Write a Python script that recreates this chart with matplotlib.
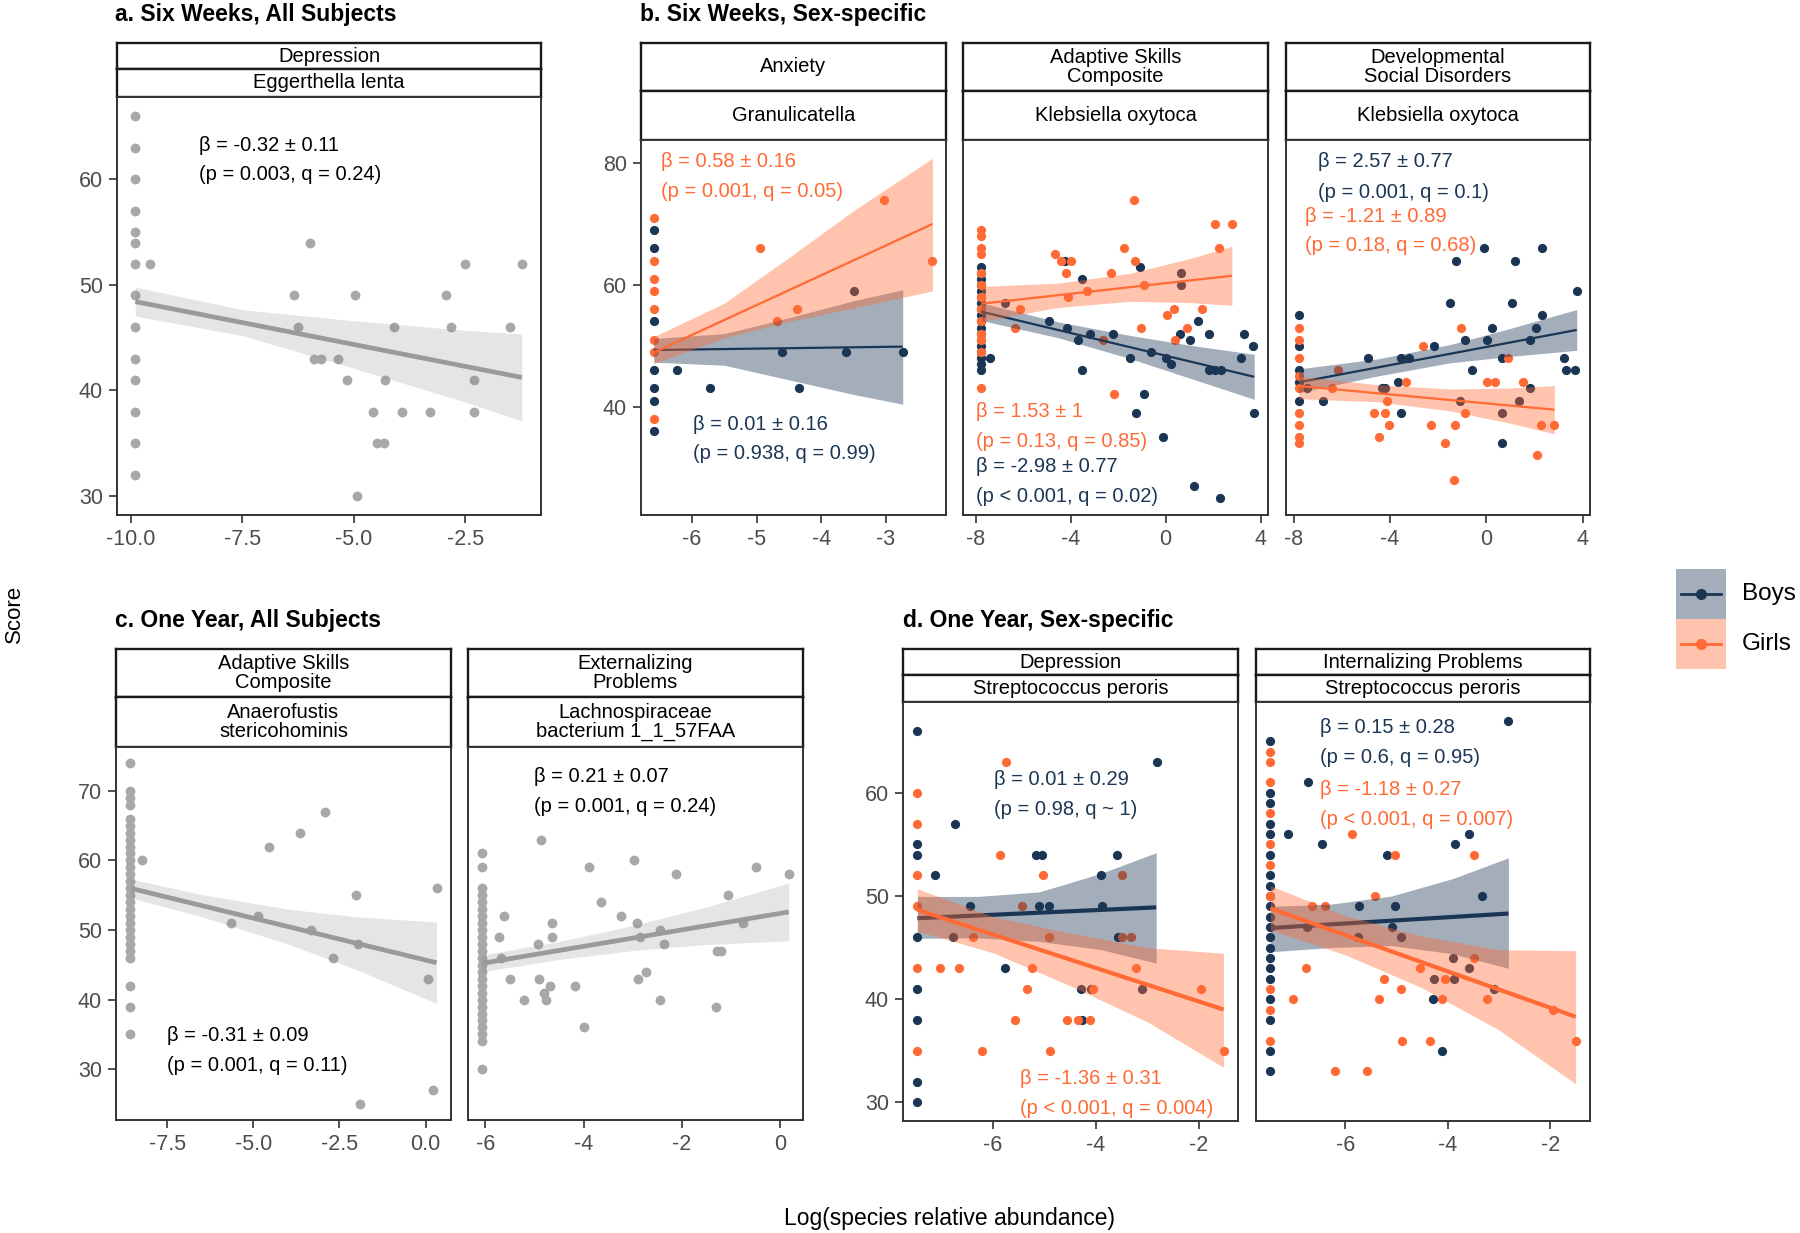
import matplotlib.pyplot as plt

plt.rcParams['font.family'] = ['Liberation Sans', 'DejaVu Sans']

NAVY = '#1b3654'
ORANGE = '#ff6a35'
GREY_PT = '#a8a8a8'
GREY_LN = '#9a9a9a'

# ---------- a. six weeks, all subjects ----------
a_x = [-9.9] * 14 + [-9.57, -5.98, -6.33, -4.97, -6.24, -4.09, -5.90, -5.74, -5.36, -5.15, -4.31, -4.56,
                     -3.91, -3.30, -4.48, -4.32, -4.93, -2.51, -1.23, -2.92, -2.82, -1.49, -2.30, -2.30]
a_y = [66, 63, 60, 57, 55, 54, 52, 49, 46, 43, 41, 38, 35, 32] + \
      [52, 54, 49, 49, 46, 46, 43, 43, 43, 41, 41, 38, 38, 38, 35, 35, 30, 52, 52, 49, 46, 46, 41, 38]
a_fit_x = [-9.9, -1.23]
a_fit_y = [48.42, 41.23]
a_band_x = [-9.9, -7.5, -5.0, -2.5, -1.23]
a_band_lo = [47.05, 45.2, 42.1, 38.9, 37.1]
a_band_hi = [49.8, 47.65, 46.6, 45.7, 45.35]

# ---------- b. six weeks, sex-specific ----------
b1_girls_x = [-6.59] * 8 + [-4.95, -3.03, -2.28, -4.37, -4.69]
b1_girls_y = [71, 64, 61, 59, 56, 51, 49, 38] + [66, 74, 64, 56, 54]
b1_boys_x = [-6.59] * 7 + [-3.49, -4.61, -3.61, -2.74, -6.24, -5.72, -4.34]
b1_boys_y = [69, 66, 54, 46, 43, 41, 36] + [59, 49, 49, 49, 46, 43, 43]
b1_girls_fit_x, b1_girls_fit_y = [-6.59, -2.28], [48.9, 70.0]
b1_girls_band_x = [-6.59, -5.5, -4.5, -3.5, -2.28]
b1_girls_band_lo = [47.1, 51.3, 54.0, 56.2, 59.0]
b1_girls_band_hi = [51.5, 57.0, 64.5, 72.2, 80.8]
b1_boys_fit_x, b1_boys_fit_y = [-6.59, -2.74], [49.3, 49.86]
b1_boys_band_x = [-6.59, -5.5, -4.5, -3.5, -2.74]
b1_boys_band_lo = [47.3, 46.8, 44.4, 42.0, 40.4]
b1_boys_band_hi = [51.2, 52.0, 54.6, 57.4, 59.2]

b2_girls_x = [-7.76] * 13 + [-1.35, 2.08, 2.79, 2.25, -4.67, -4.42, -4.0, -1.75, -1.29, -4.18, -2.30, -3.33,
                             -4.11, -0.90, 0.35, 0.06, 1.52, -1.05, 0.90, 0.38, -6.13, -2.18, -6.36, -2.62]
b2_girls_y = [69, 68, 66, 65, 62, 60, 58, 56, 54, 52, 51, 49, 43] + \
             [74, 70, 70, 66, 65, 64, 64, 66, 64, 62, 62, 59, 58, 60, 56, 55, 56, 53, 53, 51, 56, 42, 53, 51]
b2_boys_x = [-7.76] * 18 + [-7.40, -6.78, 0.65, 0.65, -4.25, -3.54, -1.08, -4.90, -4.17, -3.68, -3.19, -2.22,
                            -1.50, -0.62, 0.01, 0.22, 0.62, 1.04, 1.38, 1.84, 1.82, 2.09, 2.34, 3.28, 3.66,
                            3.19, -3.54, -0.93, -1.24, 3.73, -0.13, 1.18, 2.30]
b2_boys_y = [63, 62, 61, 60, 59, 58, 57, 56, 55, 54, 53, 52, 51, 50, 49, 48, 47, 46] + \
            [48, 57, 62, 60, 64, 61, 63, 54, 53, 51, 52, 52, 48, 49, 48, 47, 52, 51, 54, 52, 46, 46, 46, 52,
             50, 48, 46, 42, 39, 39, 35, 27, 25]
b2_girls_fit_x, b2_girls_fit_y = [-7.76, 2.79], [56.9, 61.5]
b2_girls_band_x = [-7.76, -4.5, -1.5, 1.0, 2.79]
b2_girls_band_lo = [54.05, 56.3, 57.3, 57.1, 56.65]
b2_girls_band_hi = [59.75, 60.3, 61.9, 64.3, 66.35]
b2_boys_fit_x, b2_boys_fit_y = [-7.76, 3.73], [55.6, 44.9]
b2_boys_band_x = [-7.76, -4.5, -1.5, 1.0, 3.73]
b2_boys_band_lo = [54.15, 51.3, 47.9, 44.7, 41.2]
b2_boys_band_hi = [57.05, 53.9, 51.7, 50.1, 48.6]

b3_boys_x = [-7.79] * 5 + [-1.24, -0.10, 1.20, 2.30, 3.76, -1.51, 1.06, 2.33, 0.22, 2.08, -0.90, 0.02, 1.83,
                           -2.19, -4.93, -3.55, -3.19, 0.64, 3.22, -0.61, 3.31, 3.69, -3.67, -6.80, -3.55,
                           0.64, -7.45, -4.33, -4.2, -1.11, 0.64, 1.38, 1.83]
b3_boys_y = [55, 50, 46, 44, 41] + [64, 66, 64, 66, 59, 57, 57, 55, 53, 53, 51, 51, 51, 50, 48, 48, 48, 48,
                                    48, 46, 46, 46, 44, 41, 39, 34, 43, 43, 43, 41, 39, 41, 43]
b3_girls_x = [-7.79] * 9 + [-6.17, 0.92, -1.04, -2.63, -3.33, 0.05, 0.38, 1.54, -6.41, -4.13, -4.68, -4.20,
                            -0.90, -4.02, -2.30, -1.28, 2.28, 2.83, -4.45, -1.73, 2.10, -1.33]
b3_girls_y = [53, 51, 48, 45, 43, 39, 37, 35, 34] + [46, 48, 53, 50, 44, 44, 44, 44, 43, 41, 39, 39, 39, 37,
                                                     37, 37, 37, 37, 35, 34, 32, 28]
b3_boys_fit_x, b3_boys_fit_y = [-7.79, 3.76], [44.0, 52.6]
b3_boys_band_x = [-7.79, -4.5, -1.5, 1.0, 3.76]
b3_boys_band_lo = [42.3, 45.05, 47.2, 48.25, 49.25]
b3_boys_band_hi = [46.2, 47.85, 50.2, 52.85, 55.95]
b3_girls_fit_x, b3_girls_fit_y = [-7.79, 2.83], [43.4, 39.5]
b3_girls_band_x = [-7.79, -4.5, -1.5, 1.0, 2.83]
b3_girls_band_lo = [41.3, 40.8, 39.3, 37.27, 35.55]
b3_girls_band_hi = [45.0, 43.6, 42.9, 43.07, 43.45]

# ---------- c. one year, all subjects ----------
c1_x = [-8.57] * 28 + [-8.23, -4.55, -3.65, -2.91, -5.64, -4.86, -3.32, -2.69, -1.97, -2.03, 0.32, 0.07,
                       -1.90, 0.23]
c1_y = [74, 70, 69, 68, 66, 65, 64, 63, 62, 61, 60, 59, 58, 57, 56, 55, 54, 53, 52, 51, 50, 49, 48, 47, 46,
        42, 39, 35] + [60, 62, 64, 67, 51, 52, 50, 46, 48, 55, 56, 43, 25, 27]
c1_fit_x, c1_fit_y = [-8.57, 0.32], [56.0, 45.3]
c1_band_x = [-8.57, -6.5, -4.0, -2.0, 0.32]
c1_band_lo = [54.65, 51.9, 48.0, 44.3, 39.45]
c1_band_hi = [57.35, 55.1, 53.0, 51.9, 51.15]

c2_x = [-6.07] * 26 + [-4.86, -3.89, -2.97, -2.13, -0.50, 0.17, -1.07, -3.65, -5.61, -4.65, -3.24, -2.91,
                       -0.75, -5.72, -4.65, -2.85, -2.45, -2.37, -4.92, -5.67, -1.29, -1.21, -5.50, -4.90,
                       -4.68, -4.80, -4.17, -2.89, -2.73, -5.21, -4.76, -2.45, -1.31, -4.0]
c2_y = [61, 59, 56, 55, 54, 53, 52, 51, 50, 49, 48, 47, 46, 45, 44, 43, 42, 41, 40, 39, 38, 37, 36, 35, 34,
        30] + [63, 59, 60, 58, 59, 58, 55, 54, 52, 51, 52, 51, 51, 49, 49, 49, 50, 48, 48, 46, 47, 47, 43,
               43, 42, 41, 42, 43, 44, 40, 40, 40, 39, 36]
c2_fit_x, c2_fit_y = [-6.07, 0.17], [45.2, 52.6]
c2_band_x = [-6.07, -4.5, -3.0, -1.5, 0.17]
c2_band_lo = [44.0, 45.76, 47.04, 47.92, 48.45]
c2_band_hi = [46.4, 48.36, 50.64, 53.32, 56.75]

# ---------- d. one year, sex-specific ----------
d1_boys_x = [-7.47] * 8 + [-6.74, -7.12, -6.45, -5.77, -5.17, -5.04, -5.10, -4.91, -3.90, -3.88, -3.60,
                           -3.57, -2.82, -4.27, -6.77, -4.29, -4.10, -3.11]
d1_boys_y = [66, 55, 54, 46, 41, 38, 32, 30] + [57, 52, 49, 43, 54, 54, 49, 49, 52, 49, 54, 46, 63, 38, 46,
                                                41, 41, 41]
d1_girls_x = [-7.47] * 6 + [-5.43, -3.5, -3.49, -3.32, -5.75, -5.86, -5.03, -6.39, -4.92, -7.03, -6.66,
                            -5.25, -3.22, -5.34, -4.05, -1.95, -5.58, -4.56, -4.35, -4.12, -6.21, -4.90, -1.52]
d1_girls_y = [60, 57, 52, 49, 43, 35] + [49, 52, 46, 46, 63, 54, 52, 46, 46, 43, 43, 43, 43, 41, 41, 41,
                                         38, 38, 38, 38, 35, 35, 35]
d1_boys_fit_x, d1_boys_fit_y = [-7.47, -2.83], [47.85, 48.9]
d1_boys_band_x = [-7.47, -6.3, -5.1, -3.9, -2.83]
d1_boys_band_lo = [45.9, 45.95, 45.6, 44.8, 43.5]
d1_boys_band_hi = [49.96, 49.96, 50.4, 52.2, 54.2]
d1_girls_fit_x, d1_girls_fit_y = [-7.47, -1.52], [48.66, 39.0]
d1_girls_band_x = [-7.47, -6.0, -4.5, -3.0, -1.52]
d1_girls_band_lo = [46.6, 44.5, 41.3, 37.8, 33.4]
d1_girls_band_hi = [50.7, 48.0, 46.4, 45.0, 44.45]

d2_boys_x = [-7.46] * 21 + [-2.82, -6.73, -7.11, -6.45, -5.18, -3.86, -3.59, -5.04, -4.29, -4.11, -6.75,
                            -5.74, -5.75, -5.09, -4.91, -3.91, -4.28, -3.89, -3.58, -3.34, -3.11]
d2_boys_y = [65, 60, 59, 57, 56, 54, 52, 51, 50, 49, 48, 47, 46, 45, 44, 43, 42, 40, 38, 35, 33] + \
            [67, 61, 56, 55, 54, 55, 56, 49, 40, 35, 47, 49, 46, 47, 46, 44, 42, 42, 43, 50, 41]
d2_girls_x = [-7.46] * 10 + [-5.87, -5.03, -3.50, -5.43, -6.65, -6.39, -3.50, -6.76, -4.55, -5.25, -4.06,
                             -4.92, -7.02, -5.34, -4.12, -3.23, -1.96, -4.90, -4.35, -1.51, -6.20, -5.57]
d2_girls_y = [64, 63, 61, 58, 55, 53, 50, 41, 39, 36] + [56, 54, 54, 50, 49, 49, 44, 43, 43, 42, 42, 41,
                                                         40, 40, 40, 40, 39, 36, 36, 36, 33, 33]
d2_boys_fit_x, d2_boys_fit_y = [-7.46, -2.82], [46.9, 48.3]
d2_boys_band_x = [-7.46, -6.3, -5.1, -3.9, -2.82]
d2_boys_band_lo = [44.6, 45.0, 45.2, 44.4, 43.0]
d2_boys_band_hi = [49.0, 49.2, 50.0, 51.7, 53.7]
d2_girls_fit_x, d2_girls_fit_y = [-7.46, -1.51], [48.8, 38.3]
d2_girls_band_x = [-7.46, -6.0, -4.5, -3.0, -1.51]
d2_girls_band_lo = [46.7, 44.3, 41.1, 37.0, 31.8]
d2_girls_band_hi = [51.0, 48.1, 46.1, 44.8, 44.7]

# ---------- layout (pixel boxes in the 1800x1233 figure) ----------
W, H = 1800, 1233
fig = plt.figure(figsize=(18, 12.33), dpi=100)


def box(x0, y0, x1, y1):
    return [x0 / W, 1 - y1 / H, (x1 - x0) / W, (y1 - y0) / H]


def panel(x0, x1, strips, ybot, xlim, ylim, xticks, xlabels, yticks=None):
    for top, bot, label in strips:
        s = fig.add_axes(box(x0, top, x1, bot))
        s.set_xticks([])
        s.set_yticks([])
        for sp in s.spines.values():
            sp.set_linewidth(1.7)
            sp.set_color('#1a1a1a')
        s.text(0.5, 0.5, label, ha='center', va='center', fontsize=14.5, linespacing=1.0,
               transform=s.transAxes)
    ax = fig.add_axes(box(x0, strips[-1][1], x1, ybot))
    ax.set_xlim(xlim)
    ax.set_ylim(ylim)
    ax.set_xticks(xticks, labels=xlabels)
    if yticks is None:
        ax.set_yticks([])
    else:
        ax.set_yticks(yticks, labels=[str(t) for t in yticks])
    ax.tick_params(direction='out', length=6, width=1.2, color='#333333', labelcolor='#4d4d4d',
                   labelsize=15.5, pad=4)
    for sp in ax.spines.values():
        sp.set_linewidth(1.4)
        sp.set_color('#333333')
    return ax


def grey_fit(ax, x, y, fx, fy, bx, lo, hi):
    ax.scatter(x, y, s=50, color=GREY_PT, linewidths=0, zorder=2)
    ax.fill_between(bx, lo, hi, color='grey', alpha=0.2, lw=0, zorder=3)
    ax.plot(fx, fy, color=GREY_LN, lw=3.4, solid_capstyle='butt', zorder=4)


def sex_fit(ax, boys, girls, lw):
    bx, by, bfx, bfy, bbx, blo, bhi = boys
    gx, gy, gfx, gfy, gbx, glo, ghi = girls
    ax.scatter(bx, by, s=44, color=NAVY, linewidths=0, zorder=2)
    ax.scatter(gx, gy, s=44, color=ORANGE, linewidths=0, zorder=2)
    ax.fill_between(bbx, blo, bhi, color=NAVY, alpha=0.4, lw=0, zorder=3)
    ax.plot(bfx, bfy, color=NAVY, lw=lw, solid_capstyle='butt', zorder=3)
    ax.fill_between(gbx, glo, ghi, color=ORANGE, alpha=0.4, lw=0, zorder=3)
    ax.plot(gfx, gfy, color=ORANGE, lw=lw, solid_capstyle='butt', zorder=3)


def note(ax, x, y1, y2, beta, stats, color='black'):
    ax.text(x, y1, beta, color=color, fontsize=14.5, ha='left', va='center', zorder=5)
    ax.text(x, y2, stats, color=color, fontsize=14.5, ha='left', va='center', zorder=5)


# panel a
ax = panel(117, 541, [(43, 69, 'Depression'), (69, 97, 'Eggerthella lenta')], 515,
           (-10.31, -0.80), (28.2, 67.8), [-10, -7.5, -5, -2.5], ['-10.0', '-7.5', '-5.0', '-2.5'],
           [30, 40, 50, 60])
grey_fit(ax, a_x, a_y, a_fit_x, a_fit_y, a_band_x, a_band_lo, a_band_hi)
note(ax, -8.48, 63.25, 60.47, 'β = -0.32 ± 0.11', '(p = 0.003, q = 0.24)')

# panel b
b_strips = lambda t1, t2: [(43, 91, t1), (91, 140, t2)]
ax = panel(641, 946, b_strips('Anxiety', 'Granulicatella'), 515, (-6.79, -2.07), (22.2, 83.8),
           [-6, -5, -4, -3], ['-6', '-5', '-4', '-3'], [40, 60, 80])
sex_fit(ax, (b1_boys_x, b1_boys_y, b1_boys_fit_x, b1_boys_fit_y, b1_boys_band_x, b1_boys_band_lo,
             b1_boys_band_hi),
        (b1_girls_x, b1_girls_y, b1_girls_fit_x, b1_girls_fit_y, b1_girls_band_x, b1_girls_band_lo,
         b1_girls_band_hi), 1.6)
note(ax, -6.48, 80.27, 75.3, 'β = 0.58 ± 0.16', '(p = 0.001, q = 0.05)', ORANGE)
note(ax, -5.98, 37.1, 32.3, 'β = 0.01 ± 0.16', '(p = 0.938, q = 0.99)', NAVY)

ax = panel(963, 1268, b_strips('Adaptive Skills\nComposite', 'Klebsiella oxytoca'), 515, (-8.53, 4.31),
           (22.2, 83.8), [-8, -4, 0, 4], ['-8', '-4', '0', '4'])
sex_fit(ax, (b2_boys_x, b2_boys_y, b2_boys_fit_x, b2_boys_fit_y, b2_boys_band_x, b2_boys_band_lo,
             b2_boys_band_hi),
        (b2_girls_x, b2_girls_y, b2_girls_fit_x, b2_girls_fit_y, b2_girls_band_x, b2_girls_band_lo,
         b2_girls_band_hi), 1.6)
note(ax, -7.97, 39.2, 34.25, 'β = 1.53 ± 1', '(p = 0.13, q = 0.85)', ORANGE)
note(ax, -7.97, 30.1, 25.2, 'β = -2.98 ± 0.77', '(p < 0.001, q = 0.02)', NAVY)

ax = panel(1286, 1590, b_strips('Developmental\nSocial Disorders', 'Klebsiella oxytoca'), 515,
           (-8.32, 4.31), (22.2, 83.8), [-8, -4, 0, 4], ['-8', '-4', '0', '4'])
sex_fit(ax, (b3_boys_x, b3_boys_y, b3_boys_fit_x, b3_boys_fit_y, b3_boys_band_x, b3_boys_band_lo,
             b3_boys_band_hi),
        (b3_girls_x, b3_girls_y, b3_girls_fit_x, b3_girls_fit_y, b3_girls_band_x, b3_girls_band_lo,
         b3_girls_band_hi), 1.6)
note(ax, -6.99, 80.27, 75.2, 'β = 2.57 ± 0.77', '(p = 0.001, q = 0.1)', NAVY)
note(ax, -7.52, 71.2, 66.4, 'β = -1.21 ± 0.89', '(p = 0.18, q = 0.68)', ORANGE)

# panel c
ax = panel(116, 451, [(649, 697, 'Adaptive Skills\nComposite'), (697, 747, 'Anaerofustis\nstericohominis')],
           1120, (-8.99, 0.74), (22.7, 76.3), [-7.5, -5, -2.5, 0], ['-7.5', '-5.0', '-2.5', '0.0'],
           [30, 40, 50, 60, 70])
grey_fit(ax, c1_x, c1_y, c1_fit_x, c1_fit_y, c1_band_x, c1_band_lo, c1_band_hi)
note(ax, -7.5, 34.9, 30.5, 'β = -0.31 ± 0.09', '(p = 0.001, q = 0.11)')

ax = panel(468, 803, [(649, 697, 'Externalizing\nProblems'), (697, 747, 'Lachnospiraceae\nbacterium 1_1_57FAA')],
           1120, (-6.35, 0.46), (22.7, 76.3), [-6, -4, -2, 0], ['-6', '-4', '-2', '0'])
grey_fit(ax, c2_x, c2_y, c2_fit_x, c2_fit_y, c2_band_x, c2_band_lo, c2_band_hi)
note(ax, -5.0, 72.0, 67.7, 'β = 0.21 ± 0.07', '(p = 0.001, q = 0.24)')

# panel d
ax = panel(903, 1238, [(649, 675, 'Depression'), (675, 702, 'Streptococcus peroris')], 1121,
           (-7.75, -1.24), (28.2, 68.8), [-6, -4, -2], ['-6', '-4', '-2'], [30, 40, 50, 60])
sex_fit(ax, (d1_boys_x, d1_boys_y, d1_boys_fit_x, d1_boys_fit_y, d1_boys_band_x, d1_boys_band_lo,
             d1_boys_band_hi),
        (d1_girls_x, d1_girls_y, d1_girls_fit_x, d1_girls_fit_y, d1_girls_band_x, d1_girls_band_lo,
         d1_girls_band_hi), 3.0)
note(ax, -5.99, 61.3, 58.4, 'β = 0.01 ± 0.29', '(p = 0.98, q ~ 1)', NAVY)
note(ax, -5.48, 32.3, 29.4, 'β = -1.36 ± 0.31', '(p < 0.001, q = 0.004)', ORANGE)

ax = panel(1256, 1590, [(649, 675, 'Internalizing Problems'), (675, 702, 'Streptococcus peroris')], 1121,
           (-7.74, -1.23), (28.2, 68.8), [-6, -4, -2], ['-6', '-4', '-2'])
sex_fit(ax, (d2_boys_x, d2_boys_y, d2_boys_fit_x, d2_boys_fit_y, d2_boys_band_x, d2_boys_band_lo,
             d2_boys_band_hi),
        (d2_girls_x, d2_girls_y, d2_girls_fit_x, d2_girls_fit_y, d2_girls_band_x, d2_girls_band_lo,
         d2_girls_band_hi), 3.0)
note(ax, -6.49, 66.3, 63.4, 'β = 0.15 ± 0.28', '(p = 0.6, q = 0.95)', NAVY)
note(ax, -6.49, 60.3, 57.4, 'β = -1.18 ± 0.27', '(p < 0.001, q = 0.007)', ORANGE)

# titles and axis labels
for x, y, t in [(115, 14, 'a. Six Weeks, All Subjects'), (640, 14, 'b. Six Weeks, Sex-specific'),
                (115, 620, 'c. One Year, All Subjects'), (903, 620, 'd. One Year, Sex-specific')]:
    fig.text(x / W, 1 - y / H, t, fontsize=16.5, fontweight='bold', ha='left', va='center')
fig.text(14 / W, 1 - 614 / H, 'Score', rotation=90, fontsize=16, ha='center', va='center')
fig.text(950 / W, 1 - 1219 / H, 'Log(species relative abundance)', fontsize=16.5, ha='center', va='center')

# legend
lg = fig.add_axes(box(1676, 569, 1726, 669))
lg.set_xlim(0, 1)
lg.set_ylim(0, 2)
lg.axis('off')
lg.fill_between([0, 1], 1, 2, color=NAVY, alpha=0.4, lw=0)
lg.fill_between([0, 1], 0, 1, color=ORANGE, alpha=0.4, lw=0)
lg.plot([0.1, 0.5, 0.9], [1.5] * 3, color=NAVY, lw=2, marker='o', markevery=[1], ms=7)
lg.plot([0.1, 0.5, 0.9], [0.5] * 3, color=ORANGE, lw=2, marker='o', markevery=[1], ms=7)
fig.text(1742 / W, 1 - 594 / H, 'Boys', fontsize=17.5, ha='left', va='center')
fig.text(1742 / W, 1 - 644 / H, 'Girls', fontsize=17.5, ha='left', va='center')

fig.savefig('out.png', dpi=100)
